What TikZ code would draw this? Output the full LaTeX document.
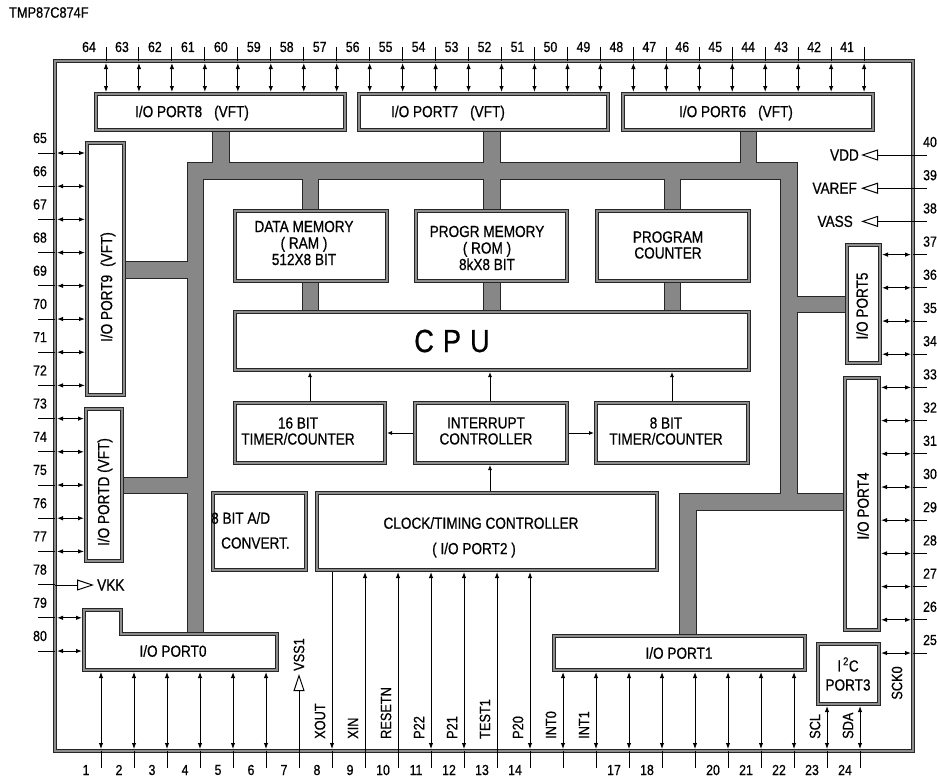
\documentclass[tikz,border=0pt]{standalone}
\usepackage{fontspec}
\setmainfont{Liberation Sans}[FakeStretch=0.85, FakeBold=0.6]
\usetikzlibrary{arrows.meta}
\begin{document}
\begin{tikzpicture}[x=1pt,y=-1pt,
  box/.style={draw=black!85, line width=0.7pt, double=black!45, double distance=2.6pt, fill=white, inner sep=0pt, outer sep=2pt},
  lbl/.style={font=\fontsize{16}{16}\selectfont, inner sep=0pt, align=center},
  num/.style={font=\fontsize{14.5}{14.5}\selectfont, inner sep=0pt},
  sig/.style={font=\fontsize{15}{15}\selectfont, inner sep=0pt, rotate=90, anchor=west},
  pa/.style={{Latex[length=6pt,width=4.5pt]}-{Latex[length=6pt,width=4.5pt]}, line width=1pt},
  ua/.style={-{Latex[length=6pt,width=4.5pt]}, line width=1pt},
  sa/.style={-{Latex[length=5pt,width=4pt]}, line width=0.9pt},
  stub/.style={line width=1pt},
  pwr/.style={-{Triangle[open,length=17pt,width=11pt]}, line width=1pt},
]
\fill[white] (0,0) rectangle (937,780);
\useasboundingbox (0,0) rectangle (937,780);

\node[anchor=west, inner sep=0pt, font=\fontsize{15}{15}\selectfont] (title) at (9,12.5) {TMP87C874F};

% chip outline
\node[box, fill=none, minimum width=858pt, minimum height=690pt, outer sep=0pt] (chip) at (484,406) {};

% internal bus
\def\buslist{188/163/797/179, 188/163/203/636, 781/163/797/510, 680/494/845/510, 680/494/696/636, 797/297/847/312, 124/262/188/278, 122/478/188/493, 213/130/229/163, 484/130/500/163, 741/130/756/163, 303/179/318/211, 303/281/318/312, 484/179/500/211, 484/281/500/312, 665/179/680/211, 665/281/680/312}
\foreach \a/\b/\c/\d in \buslist {\draw[black!85, line width=1.2pt, fill=black!85] (\a,\b) rectangle (\c,\d);}
\foreach \a/\b/\c/\d in \buslist {\fill[black!47] (\a,\b) rectangle (\c,\d);}

% boxes
\node[box, minimum width=249pt, minimum height=36pt] (port8) at (220.5,112) {};
\node[box, minimum width=249pt, minimum height=36pt] (port7) at (483.5,112) {};
\node[box, minimum width=250pt, minimum height=36pt] (port6) at (748,112) {};
\node[box, minimum width=37pt, minimum height=252pt] (port9) at (105.5,269) {};
\node[box, minimum width=36pt, minimum height=152pt] (portd) at (104,485) {};
\node[box, minimum width=33pt, minimum height=118pt] (port5) at (863.5,304) {};
\node[box, minimum width=34pt, minimum height=252pt] (port4) at (862,504) {};
\node[box, minimum width=251pt, minimum height=34pt] (port1) at (679.5,653) {};
\node[box, minimum width=61pt, minimum height=60pt] (i2c) at (848.5,674) {};
\node[box, minimum width=340pt, minimum height=77pt] (clock) at (487,531.5) {};
\node[box, minimum width=93pt, minimum height=77pt] (adc) at (259.5,531.5) {};
\node[box, minimum width=152pt, minimum height=70pt] (dmem) at (311,246) {};
\node[box, minimum width=151pt, minimum height=70pt] (pmem) at (491.5,246) {};
\node[box, minimum width=152pt, minimum height=70pt] (pc) at (673,246) {};
\node[box, minimum width=514pt, minimum height=58pt] (cpu) at (492,341) {};
\node[box, minimum width=150pt, minimum height=60pt] (t16) at (310,433) {};
\node[box, minimum width=152pt, minimum height=60pt] (intc) at (491,433) {};
\node[box, minimum width=152pt, minimum height=60pt] (t8) at (672,433) {};
\draw[box] (84,610) -- (121,610) -- (121,634) -- (277,634) -- (277,670) -- (84,670) -- cycle;
\node[minimum width=193pt, minimum height=60pt, inner sep=0pt, outer sep=2pt] (port0) at (180.5,640) {};

% box texts
\node[lbl] (l8) at (192,113) {I/O PORT8\hspace{12pt}(VFT)};
\node[lbl] (l7) at (448,113) {I/O PORT7\hspace{12pt}(VFT)};
\node[lbl] (l6) at (736,113) {I/O PORT6\hspace{12pt}(VFT)};
\node[lbl, rotate=90] (l9) at (108,287) {I/O PORT9\hspace{8pt}(VFT)};
\node[lbl, rotate=90] (ld) at (105,492) {I/O PORTD (VFT)};
\node[lbl, rotate=90] (l5) at (862,306) {I/O PORT5};
\node[lbl, rotate=90] (l4) at (863,506) {I/O PORT4};
\node[lbl] (l1) at (679,653) {I/O PORT1};
\node[lbl] (l0) at (173,651) {I/O PORT0};
\node[lbl, font=\fontsize{16}{16.5}\selectfont] (ldm) at (304,243) {DATA MEMORY\\( RAM )\\512X8 BIT};
\node[lbl, font=\fontsize{16}{16.5}\selectfont] (lpm) at (487,248) {PROGR MEMORY\\( ROM )\\8kX8 BIT};
\node[lbl] (lpc) at (668,245) {PROGRAM\\COUNTER};
\node[lbl, font=\fontsize{32}{32}\selectfont] (lcpu) at (452,341) {C\hspace{9pt}P\hspace{9pt}U};
\node[lbl] (lt16) at (298,431) {16 BIT\\TIMER/COUNTER};
\node[lbl] (lint) at (486,431) {INTERRUPT\\CONTROLLER};
\node[lbl] (lt8) at (666,431) {8 BIT\\TIMER/COUNTER};
\node[lbl] (lclk1) at (481,523) {CLOCK/TIMING CONTROLLER};
\node[lbl] (lclk2) at (474,550) {( I/O PORT2 )};
\node[lbl, anchor=west] (lad1) at (211,518) {8 BIT A/D};
\node[lbl, anchor=west] (lad2) at (221,543) {CONVERT.};
\node[lbl, font=\fontsize{16}{19}\selectfont] (li2c) at (848,674) {I\hspace{2pt}\textsuperscript{2}C\\PORT3};

% internal arrows
\draw[sa] (310,0 |- t16.north) -- (310,0 |- cpu.south);
\draw[sa] (490,0 |- intc.north) -- (490,0 |- cpu.south);
\draw[sa] (672,0 |- t8.north) -- (672,0 |- cpu.south);
\draw[sa] (490,0 |- clock.north) -- (490,0 |- intc.south);
\draw[sa] (intc.west) -- (t16.east);
\draw[sa] (intc.east) -- (t8.west);

% top pins
\foreach \i in {0,...,23}{
  \pgfmathsetmacro\xx{106+\i*32.96}
  \pgfmathtruncatemacro\nn{64-\i}
  \draw[stub] (\xx,0 |- chip.north) -- ++(0,-14);
  \node[num] (tn\nn) at (\xx-17,47) {\nn};
}
\foreach \a/\b/\p in {0/7/port8, 8/15/port7, 16/23/port6}{
  \foreach \i in {\a,...,\b}{
    \pgfmathsetmacro\xx{106+\i*32.96}
    \draw[pa, shorten <=2pt] (\xx,0 |- chip.north) -- (\xx,0 |- \p.north);
  }
}

% left pins
\foreach \k in {65,...,80}{
  \pgfmathsetmacro\yy{153+(\k-65)*33.2}
  \draw[stub] (chip.west |- 0,\yy) -- ++(-17,0);
  \node[num] (ln\k) at (40,\yy-15) {\k};
}
\foreach \a/\b/\p in {65/72/port9, 73/77/portd, 79/80/port0}{
  \foreach \k in {\a,...,\b}{
    \pgfmathsetmacro\yy{153+(\k-65)*33.2}
    \draw[pa, shorten <=2pt] (chip.west |- 0,\yy) -- (\p.west |- 0,\yy);
  }
}
\node[lbl, anchor=west] (vkk) at (97,585) {VKK};
\draw[pwr, shorten >=3pt] (chip.west |- vkk.west) -- (vkk.west);

% right pins
\foreach \k in {25,...,40}{
  \pgfmathsetmacro\yy{155+(40-\k)*33.2}
  \draw[stub] (chip.east |- 0,\yy) -- ++(14,0);
  \node[num] (rn\k) at (930,\yy-13) {\k};
}
\foreach \a/\b/\p in {34/37/port5, 26/33/port4, 25/25/i2c}{
  \foreach \k in {\a,...,\b}{
    \pgfmathsetmacro\yy{155+(40-\k)*33.2}
    \draw[pa, shorten <=2pt] (chip.east |- 0,\yy) -- (\p.east |- 0,\yy);
  }
}
\node[lbl, anchor=east] (vdd) at (859,155) {VDD};
\node[lbl, anchor=east] (varef) at (857,188.2) {VAREF};
\node[lbl, anchor=east] (vass) at (853,221.4) {VASS};
\draw[pwr, shorten >=2pt] (chip.east |- vdd.east) -- (vdd.east);
\draw[pwr, shorten >=4pt] (chip.east |- varef.east) -- (varef.east);
\draw[pwr, shorten >=8pt] (chip.east |- vass.east) -- (vass.east);

% bottom pins
\foreach \k in {1,...,24}{
  \pgfmathsetmacro\xx{101+(\k-1)*33}
  \draw[stub] (\xx,0 |- chip.south) -- ++(0,17);
}
\foreach \k in {1,...,14,17,18,20,21,22,23,24}{
  \pgfmathsetmacro\xx{101+(\k-1)*33}
  \node[num] (bn\k) at (\xx-15,770) {\k};
}
\foreach \k/\p in {1/port0,2/port0,3/port0,4/port0,5/port0,6/port0,11/clock,12/clock,14/clock,15/port1,16/port1,17/port1,18/port1,19/port1,20/port1,21/port1,22/port1,23/i2c,24/i2c}{
  \pgfmathsetmacro\xx{101+(\k-1)*33}
  \draw[pa, shorten <=2pt] (\xx,0 |- chip.south) -- (\xx,0 |- \p.south);
}
\foreach \k in {9,10,13}{
  \pgfmathsetmacro\xx{101+(\k-1)*33}
  \draw[ua] (\xx,0 |- chip.south) -- (\xx,0 |- clock.south);
}
\draw[ua, shorten >=2pt] (332,0 |- clock.south) -- (332,0 |- chip.south);
\foreach \k/\s in {8/XOUT,9/XIN,10/RESETN,11/P22,12/P21,13/TEST1,14/P20,15/INT0,16/INT1,23/SCL,24/SDA}{
  \pgfmathsetmacro\xx{101+(\k-1)*33}
  \node[sig] (s\k) at (\xx-12,739) {\s};
}
\node[sig] (vss) at (299,671) {VSS1};
\draw[pwr, shorten >=3pt] (299,0 |- chip.south) -- (vss.west);
\node[sig, anchor=center] (sck) at (897,683) {SCK0};
\end{tikzpicture}
\end{document}
